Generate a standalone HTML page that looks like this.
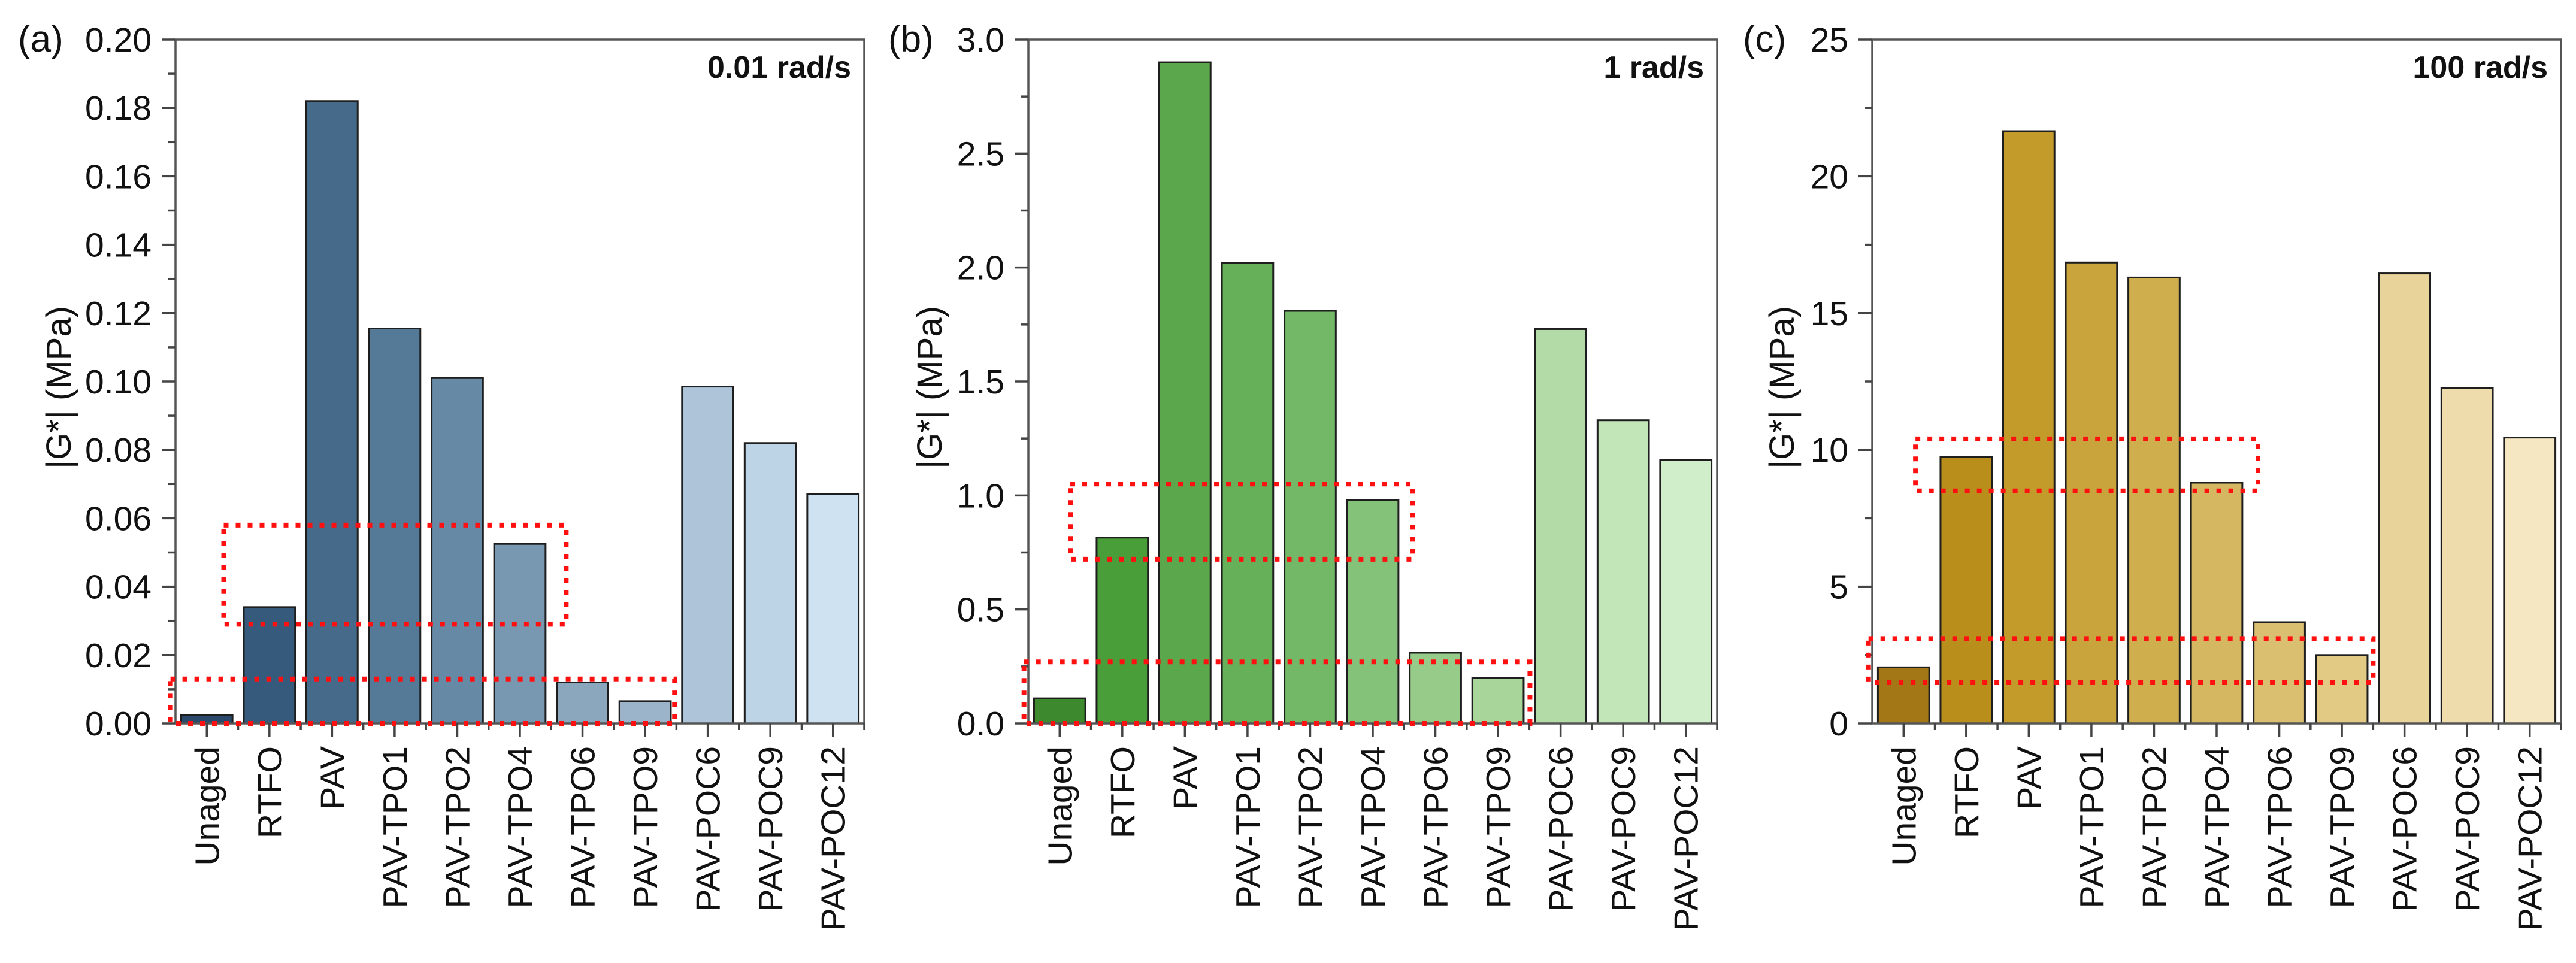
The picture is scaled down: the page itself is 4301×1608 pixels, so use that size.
<!DOCTYPE html>
<html><head><meta charset="utf-8"><style>
html,body{margin:0;padding:0;background:#fff;}
svg{display:block;font-family:"Liberation Sans",Arial,sans-serif;}
</style></head><body>
<svg id="chart" width="4301" height="1608" viewBox="0 0 4301 1608" xmlns="http://www.w3.org/2000/svg"></svg>
<script>
const categories = ["Unaged","RTFO","PAV","PAV-TPO1","PAV-TPO2","PAV-TPO4","PAV-TPO6","PAV-TPO9","PAV-POC6","PAV-POC9","PAV-POC12"];
const valuesA = [0.0025,0.034,0.182,0.1155,0.101,0.0525,0.012,0.0065,0.0985,0.082,0.067];
const valuesB = [0.11,0.815,2.9,2.02,1.81,0.98,0.31,0.2,1.73,1.33,1.155];
const valuesC = [2.05,9.75,21.65,16.85,16.3,8.8,3.7,2.5,16.45,12.25,10.45];
const ticksA = ["0.00","0.02","0.04","0.06","0.08","0.10","0.12","0.14","0.16","0.18","0.20"];
const ticksB = ["0.0","0.5","1.0","1.5","2.0","2.5","3.0"];
const ticksC = ["0","5","10","15","20","25"];
const boxesA = [[0.77,6.24,0.029,0.058],[-0.08,7.97,0,0.013]];
const boxesB = [[0.67,6.14,0.72,1.05],[-0.07,8.01,0,0.27]];
const boxesC = [[0.69,6.16,8.5,10.4],[-0.06,8.0,1.5,3.1]];
const colorsA = ["#2b4a6b","#365a7b","#456a8a","#557a98","#6689a5","#7898b1","#8aa7be","#9bb4c9","#adc4d9","#bdd3e6","#cfe2f2"];
const colorsB = ["#3d8a2e","#4a9e3a","#5aa84b","#66b059","#73b867","#85c279","#97cb8a","#a8d59a","#b3dba8","#c2e6b8","#d1eeca"];
const colorsC = ["#a37716","#b98e1a","#c39b2a","#c9a43c","#cfae4e","#d5b762","#dbbf71","#e2c984","#e8d39b","#eedcac","#f5e7c2"];

const NS="http://www.w3.org/2000/svg";
const svg=document.getElementById('chart');
function mk(tag,attrs,parent){const e=document.createElementNS(NS,tag);for(const k in attrs)e.setAttribute(k,attrs[k]);(parent||svg).appendChild(e);return e;}

function panel(cfg){
  const g=mk('g',{});
  
  
  const x0=cfg.x0,W=1150,y0=66,y1=1208,H=y1-y0;
  const band=W/categories.length;
  const ymax=parseFloat(cfg.ticks[cfg.ticks.length-1]);
  const Y=v=>y1-v/ymax*H;
  const X=i=>x0+i*band;
  cfg.values.forEach((v,i)=>{
    const bw=band*0.82;
    const r=mk('rect',{x:X(i)+(band-bw)/2,y:Y(v),width:bw,height:y1-Y(v),fill:cfg.colors[i],stroke:'#1e1e1e','stroke-width':3},g);
    
    
  });
  const fr=mk('rect',{x:x0,y:y0,width:W,height:H,fill:'none',stroke:'#555','stroke-width':3.5},g);
  
  
  const step=ymax/(cfg.ticks.length-1);
  cfg.ticks.forEach((t,i)=>{
    const v=i*step,y=Y(v);
    mk('line',{x1:x0-23,x2:x0,y1:y,y2:y,stroke:'#444','stroke-width':3.5},g);
    if(i<cfg.ticks.length-1){const ym=Y(v+step/2);mk('line',{x1:x0-12,x2:x0,y1:ym,y2:ym,stroke:'#444','stroke-width':3.5},g);}
    const tx=mk('text',{x:x0-40,y:y+20,'text-anchor':'end','font-size':57,fill:'#111'},g);
    tx.textContent=t;
    
    
  });
  categories.forEach((c,i)=>{
    const cx=X(i)+band/2;
    mk('line',{x1:cx,x2:cx,y1:y1,y2:y1+22,stroke:'#444','stroke-width':3.5},g);
    mk('line',{x1:X(i+1),x2:X(i+1),y1:y1,y2:y1+11,stroke:'#444','stroke-width':3.5},g);
    const tx=mk('text',{x:0,y:0,'text-anchor':'end','font-size':57,fill:'#111',transform:`translate(${cx+20},${y1+38}) rotate(-90)`},g);
    tx.textContent=c;
    
    
  });
  cfg.boxes.forEach(b=>{
    const r=mk('rect',{x:X(b[0]),y:Y(b[3]),width:X(b[1])-X(b[0]),height:Y(b[2])-Y(b[3]),fill:'none',stroke:'#ff1010','stroke-width':8,'stroke-dasharray':'8 12'},g);
    
    
  });
  const yt=mk('text',{x:0,y:0,'text-anchor':'middle','font-size':58,fill:'#111',transform:`translate(${x0-cfg.titleOff},${(y0+y1)/2+10}) rotate(-90)`},g);
  yt.textContent='|G*| (MPa)';
  
  
  const pl=mk('text',{x:x0-cfg.labelOff,y:86,'font-size':62,fill:'#111'},g);
  pl.textContent=cfg.label;
  
  
  const ft=mk('text',{x:x0+W-22,y:130,'text-anchor':'end','font-size':52,'font-weight':'bold',fill:'#111'},g);
  ft.textContent=cfg.freq;
  
  
}
panel({name:'panel-a',x0:293,values:valuesA,ticks:ticksA,colors:colorsA,boxes:boxesA,label:'(a)',freq:'0.01 rad/s',labelOff:263,titleOff:175});
panel({name:'panel-b',x0:1717,values:valuesB,ticks:ticksB,colors:colorsB,boxes:boxesB,label:'(b)',freq:'1 rad/s',labelOff:234,titleOff:145});
panel({name:'panel-c',x0:3126,values:valuesC,ticks:ticksC,colors:colorsC,boxes:boxesC,label:'(c)',freq:'100 rad/s',labelOff:216,titleOff:131});
</script>
</body></html>
